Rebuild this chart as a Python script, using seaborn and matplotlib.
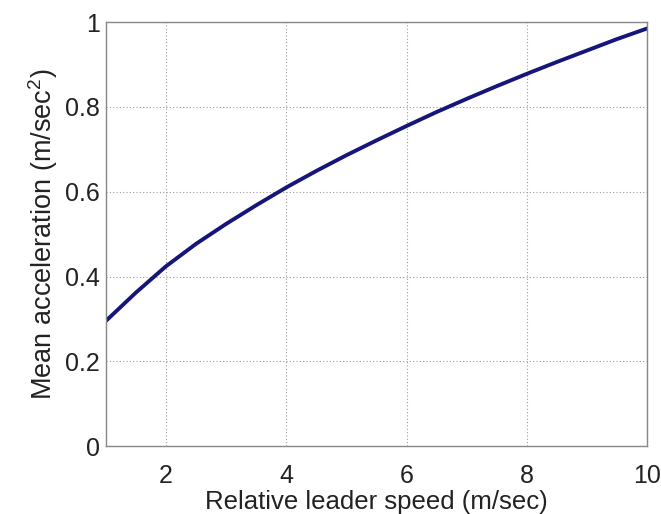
import matplotlib
matplotlib.use("Agg")
import matplotlib.pyplot as plt
import seaborn as sns
import pandas as pd

speed = [1.0, 1.5, 2.0, 2.5, 3.0, 3.5, 4.0, 4.5, 5.0, 5.5, 6.0, 6.5, 7.0, 7.5, 8.0, 8.5, 9.0, 9.5, 10.0]
accel = [0.295, 0.362, 0.424, 0.477, 0.524, 0.568, 0.610, 0.649, 0.686, 0.721, 0.755,
         0.788, 0.819, 0.849, 0.878, 0.906, 0.933, 0.960, 0.985]
xticks = [2, 4, 6, 8, 10]
yticks = [0, 0.2, 0.4, 0.6, 0.8, 1]
ytick_labels = ["0", "0.2", "0.4", "0.6", "0.8", "1"]

sns.set_style("white")
plt.rcParams['font.family'] = ['Liberation Sans', 'DejaVu Sans']
plt.rcParams['mathtext.fontset'] = 'custom'
plt.rcParams['mathtext.rm'] = 'Liberation Sans'
plt.rcParams['mathtext.it'] = 'Liberation Sans'

df = pd.DataFrame({"speed": speed, "accel": accel})

fig = plt.figure(figsize=(6.61, 5.14), dpi=100)
ax = fig.add_axes([0.160, 0.132, 0.819, 0.825])
sns.lineplot(data=df, x="speed", y="accel", ax=ax, color="#16167a", linewidth=2.8)

ax.set_xlim(1, 10)
ax.set_ylim(0, 1)
ax.set_xticks(xticks)
ax.set_xticklabels([str(t) for t in xticks])
ax.set_yticks(yticks)
ax.set_yticklabels(ytick_labels)
ax.grid(True, color="#9a9a9a", linestyle=(0, (1, 2)), linewidth=0.8)
ax.tick_params(direction="in", length=4, color="#777777", labelsize=18, labelcolor="#222222")
ax.tick_params(axis="x", pad=13)
ax.tick_params(axis="y", pad=4)
for s in ax.spines.values():
    s.set_color("#888888")
    s.set_linewidth(1.0)

ax.set_xlabel("Relative leader speed (m/sec)", fontsize=18.5, color="#222222", labelpad=1)
ax.set_ylabel("Mean acceleration (m/sec$^2$)", fontsize=19.5, color="#222222", labelpad=4)

fig.savefig("out.png", dpi=100)
